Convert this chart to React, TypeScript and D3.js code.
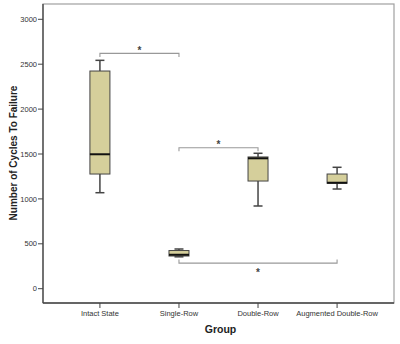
import React from "react";
import * as d3 from "d3";

const categories = ["Intact State", "Single-Row", "Double-Row", "Augmented Double-Row"];
const whiskerLow = [1069, 355, 921, 1110];
const q1 = [1277, 364, 1199, 1174];
const median = [1497, 378, 1452, 1180];
const q3 = [2424, 425, 1467, 1277];
const whiskerHigh = [2543, 442, 1508, 1352];
const yTicks = [0, 500, 1000, 1500, 2000, 2500, 3000];

// significance brackets
const brackets: { from: number; to: number; level: number; dir: "down" | "up" }[] = [
  { from: 0, to: 1, level: 2620, dir: "down" },
  { from: 1, to: 2, level: 1570, dir: "down" },
  { from: 1, to: 3, level: 285, dir: "up" },
];

export default function App() {
  const W = 400, H = 344;
  const left = 43, right = 394, top = 4, bottom = 303;
  const y = d3.scaleLinear().domain([0, 3000]).range([288.7, 19.3]);
  const x = d3.scalePoint<string>().domain(categories).range([left, right]).padding(0.72);
  const boxW = 20, capW = 9;
  const font = "'Liberation Sans', Arial, sans-serif";
  const fill = "#d5cf9b";

  return (
    <svg width={W} height={H} style={{ position: "absolute", left: 0, top: 0, background: "#fff" }}>
      <rect x={left} y={top} width={right - left} height={bottom - top} fill="none" stroke="#a0a0a0" strokeWidth={1.2} />
      <line x1={left} x2={left} y1={top} y2={bottom} stroke="#444" strokeWidth={1.3} />
      <line x1={left} x2={right} y1={bottom} y2={bottom} stroke="#444" strokeWidth={1.3} />

      {yTicks.map((t) => (
        <g key={t}>
          <line x1={left - 5} x2={left} y1={y(t)} y2={y(t)} stroke="#444" strokeWidth={1} />
          <text x={left - 6} y={y(t)} dy="0.35em" textAnchor="end" fontSize={7.5} fontFamily={font} fill="#333">
            {t}
          </text>
        </g>
      ))}

      {categories.map((c) => (
        <g key={c}>
          <line x1={x(c)} x2={x(c)} y1={bottom} y2={bottom + 5} stroke="#444" strokeWidth={1} />
          <text x={x(c)} y={bottom + 10} dy="0.35em" textAnchor="middle" fontSize={7.5} fontFamily={font} fill="#333">
            {c}
          </text>
        </g>
      ))}

      <text x={(left + right) / 2 + 2} y={329} dy="0.35em" textAnchor="middle" fontSize={10.5} fontWeight="bold" fontFamily={font} fill="#222">
        Group
      </text>
      <text
        transform={`translate(13.5,${153}) rotate(-90)`}
        textAnchor="middle"
        dy="0.35em"
        fontSize={10}
        fontWeight="bold"
        fontFamily={font}
        fill="#222"
      >
        Number of Cycles To Failure
      </text>

      {categories.map((c, i) => {
        const cx = x(c)!;
        return (
          <g key={c}>
            <line x1={cx} x2={cx} y1={y(whiskerHigh[i])} y2={y(q3[i])} stroke="#444" strokeWidth={1.5} />
            <line x1={cx} x2={cx} y1={y(q1[i])} y2={y(whiskerLow[i])} stroke="#444" strokeWidth={1.5} />
            <line x1={cx - capW / 2} x2={cx + capW / 2} y1={y(whiskerHigh[i])} y2={y(whiskerHigh[i])} stroke="#444" strokeWidth={1.5} />
            <line x1={cx - capW / 2} x2={cx + capW / 2} y1={y(whiskerLow[i])} y2={y(whiskerLow[i])} stroke="#444" strokeWidth={1.5} />
            <rect x={cx - boxW / 2} y={y(q3[i])} width={boxW} height={y(q1[i]) - y(q3[i])} fill={fill} stroke="#444" strokeWidth={1} />
            <line x1={cx - boxW / 2} x2={cx + boxW / 2} y1={y(median[i])} y2={y(median[i])} stroke="#111" strokeWidth={2} />
          </g>
        );
      })}

      {brackets.map((b, i) => {
        const x1 = x(categories[b.from])!;
        const x2 = x(categories[b.to])!;
        const yy = y(b.level);
        const tick = b.dir === "down" ? 3.5 : -3.5;
        const starCenter = b.dir === "down" ? yy - 5.7 : yy + 6.7;
        const fs = 10;
        return (
          <g key={i}>
            <path d={`M${x1},${yy + tick}V${yy}H${x2}V${yy + tick}`} fill="none" stroke="#999" strokeWidth={1.1} />
            <text x={(x1 + x2) / 2} y={starCenter + 0.58 * fs} textAnchor="middle" fontSize={fs} fontWeight="bold" fontFamily={font} fill="#444">
              *
            </text>
          </g>
        );
      })}
    </svg>
  );
}
